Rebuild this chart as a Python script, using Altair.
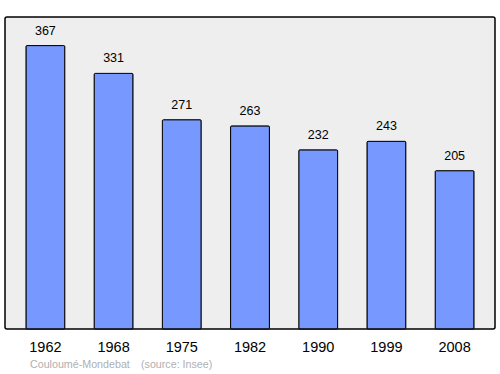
import altair as alt
import pandas as pd

years = ["1962", "1968", "1975", "1982", "1990", "1999", "2008"]
population = [367, 331, 271, 263, 232, 243, 205]
place = "Couloumé-Mondebat"
source_note = "(source: Insee)"

df = pd.DataFrame({"year": years, "pop": population})

x = alt.X("year:N", sort=None,
          scale=alt.Scale(paddingInner=0.43, paddingOuter=0.307),
          axis=alt.Axis(title=None, labelAngle=0, labelFontSize=14.5, labelFont="Liberation Sans",
                        labelColor="#000000", ticks=False, domain=False, labelPadding=11))
y = alt.Y("pop:Q", scale=alt.Scale(domain=[0, 404], nice=False),
          axis=None)

base = alt.Chart(df)
bars = base.mark_bar(color="#7799ff", stroke="#000000", strokeWidth=1, cornerRadius=1).encode(x=x, y=y)
labels = base.mark_text(dy=-15, fontSize=12.5, font="Liberation Sans", color="#000000").encode(
    x=x, y=y, text="pop:Q")
src1 = alt.Chart(pd.DataFrame({"t": [place]})).mark_text(
    align="left", baseline="middle", fontSize=10.7, font="Liberation Sans", color="#b0b0b0"
).encode(x=alt.value(25), y=alt.value(348), text="t:N")
src2 = alt.Chart(pd.DataFrame({"t": [source_note]})).mark_text(
    align="left", baseline="middle", fontSize=10.7, font="Liberation Sans", color="#b0b0b0"
).encode(x=alt.value(136), y=alt.value(348), text="t:N")

chart = (bars + labels + src1 + src2).properties(
    width=490, height=312,
    autosize=alt.AutoSizeParams(type="none"),
    padding={"left": 5, "top": 17, "right": 5, "bottom": 45},
).configure_view(fill="#eeeeee", stroke="#000000", strokeWidth=1.5, cornerRadius=2)

chart.save("out.html", embed_options={"renderer": "svg", "actions": False})
